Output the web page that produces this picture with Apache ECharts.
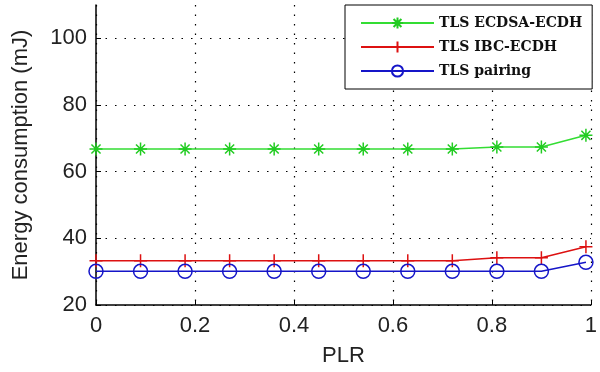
<!DOCTYPE html>
<html>
<head>
<meta charset="utf-8">
<script src="https://cdn.jsdelivr.net/npm/echarts@6/dist/echarts.min.js"></script>
<style>
  html, body { margin: 0; padding: 0; background: #fff; }
  #chart { width: 600px; height: 372px; }
</style>
</head>
<body>
<div id="chart"></div>
<script>
  // packet loss rate (x)
  const plr = [0, 0.09, 0.18, 0.27, 0.36, 0.45, 0.54, 0.63, 0.72, 0.81, 0.90, 0.99];
  // energy consumption, mJ
  const ecdsaEcdh = [66.8, 66.8, 66.8, 66.8, 66.8, 66.8, 66.8, 66.8, 66.8, 67.4, 67.4, 70.9];
  const ibcEcdh = [33.3, 33.3, 33.3, 33.3, 33.3, 33.3, 33.3, 33.3, 33.3, 34.2, 34.2, 37.5];
  const pairing = [30.1, 30.1, 30.1, 30.1, 30.1, 30.1, 30.1, 30.1, 30.1, 30.1, 30.1, 32.8];
  const seriesNames = ['TLS ECDSA-ECDH', 'TLS IBC-ECDH', 'TLS pairing'];

  const asterisk = 'path://M0,-1L0,1M-1,0L1,0M-0.7,-0.7L0.7,0.7M-0.7,0.7L0.7,-0.7';
  const plus = 'path://M0,-1L0,1M-1,0L1,0';

  function pairs(ys) {
    return plr.map((x, i) => [x, ys[i]]);
  }

  const chart = echarts.init(document.getElementById('chart'));
  const axisFont = {fontFamily: 'Liberation Sans', fontSize: 22, color: '#222'};

  chart.setOption({
    animation: false,
    backgroundColor: '#fff',
    grid: {left: 96, top: 5, width: 502, height: 300},
    legend: {
      orient: 'vertical',
      left: 345,
      top: 5,
      padding: [11, 10, 11, 15],
      itemGap: 10,
      itemWidth: 73,
      itemHeight: 14,
      backgroundColor: '#fff',
      borderColor: '#000',
      borderWidth: 1,
      textStyle: {fontFamily: 'DejaVu Serif', fontWeight: 'bold', fontSize: 14, color: '#111'},
      data: seriesNames,
    },
    xAxis: {
      type: 'value',
      min: 0,
      max: 1,
      interval: 0.2,
      name: 'PLR',
      nameLocation: 'middle',
      nameGap: 40,
      nameTextStyle: axisFont,
      axisLine: {lineStyle: {color: '#000', width: 1.5}},
      axisTick: {inside: true, length: 5, lineStyle: {color: '#000'}},
      axisLabel: Object.assign({margin: 10}, axisFont),
      splitLine: {show: true, lineStyle: {color: '#000', type: [1.5, 8], width: 1.2}},
    },
    yAxis: {
      type: 'value',
      min: 20,
      max: 110,
      interval: 20,
      name: 'Energy consumption (mJ)',
      nameLocation: 'middle',
      nameGap: 64,
      nameTextStyle: axisFont,
      axisLine: {show: true, lineStyle: {color: '#000', width: 1.5}},
      axisTick: {show: true, inside: true, length: 5, lineStyle: {color: '#000'}},
      axisLabel: Object.assign({margin: 9, showMaxLabel: false}, axisFont),
      splitLine: {show: true, showMaxLine: false, lineStyle: {color: '#000', type: [1.5, 8], width: 1.2}},
    },
    series: [
      {
        name: seriesNames[0],
        type: 'line',
        data: pairs(ecdsaEcdh),
        symbol: asterisk,
        symbolSize: 13,
        lineStyle: {color: '#33dd33', width: 1.5},
        itemStyle: {color: '#33dd33', borderColor: '#22cc22', borderWidth: 1.5},
      },
      {
        name: seriesNames[1],
        type: 'line',
        data: pairs(ibcEcdh),
        symbol: plus,
        symbolSize: 13,
        lineStyle: {color: '#dd1111', width: 1.5},
        itemStyle: {color: '#dd1111', borderColor: '#dd1111', borderWidth: 1.5},
      },
      {
        name: seriesNames[2],
        type: 'line',
        data: pairs(pairing),
        symbol: 'circle',
        symbolSize: 14,
        lineStyle: {color: '#1515c8', width: 1.5},
        itemStyle: {color: 'rgba(0,0,0,0)', borderColor: '#1515c8', borderWidth: 1.5},
      },
    ],
  });
</script>
</body>
</html>
